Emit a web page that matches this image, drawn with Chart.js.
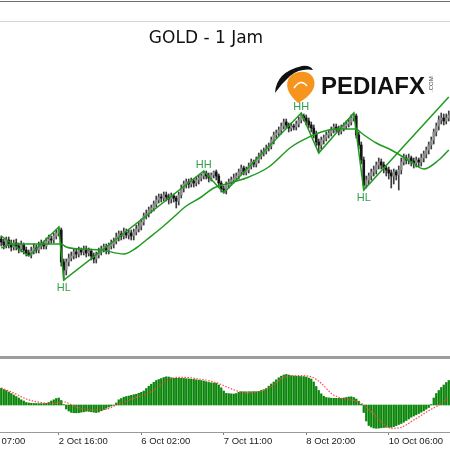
<!DOCTYPE html>
<html>
<head>
<meta charset="utf-8">
<script src="https://cdn.jsdelivr.net/npm/chart.js@4.4.0/dist/chart.umd.min.js"></script>
<style>
  html, body { margin: 0; padding: 0; background: #fff; }
  #wrap { position: relative; width: 450px; height: 450px; overflow: hidden; background: #fff; }
  .rule { position: absolute; left: 0; width: 450px; }
  #priceBox { position: absolute; left: 0; top: 22px; width: 450px; height: 334px; }
  #oscBox { position: absolute; left: 0; top: 359px; width: 450px; height: 91px; }
</style>
</head>
<body>
<div id="wrap">
  <div class="rule" style="top:1px;height:1px;background:#6c6c6c"></div>
  <div class="rule" style="top:21px;height:1px;background:#d6d6d6"></div>
  <div id="priceBox"><canvas id="priceChart" width="450" height="334"></canvas></div>
  <div class="rule" style="top:356px;height:3px;background:#9c9c9c"></div>
  <div id="oscBox"><canvas id="oscChart" width="450" height="91"></canvas></div>
</div>
<script>
// GOLD H1 candles (one per bar, left to right)
const opens = [
  1761,1758,1755,1760,1756,1753,1757,1754,1751,1755,1750,1747,
  1745,1749,1752,1750,1754,1756,1754,1759,1761,1760,1764,1767,
  1770,1738,
  1730,1738,1742,1744,1748,1746,1750,1748,1751,1747,1749,1744,
  1741,1745,1748,1751,1753,1750,1754,1756,1759,1763,1766,1764,1768,1765,1767,1764,1768,1771,
  1774,1778,1784,1786,1790,1792,1796,1800,1803,1802,1805,1803,1801,1804,1802,1799,1805,1812,1816,1818,1816,1819,1817,1820,1822,1824,
  1827,1824,1822,1825,1828,1824,1817,1811,
  1810,1815,1818,1820,1822,1824,1828,1832,1828,1830,1834,1838,1836,1840,1844,1847,1849,1852,1854,1860,1865,1867,1870,1874,1878,1875,1872,1874,1873,1876,1880,
  1884,1882,1879,1875,1872,1866,
  1858,1855,1860,1862,1865,1867,1870,1873,1871,1869,1872,1874,1876,1878,1882,
  1884,1865,1855,1840,
  1815,1820,1824,1828,1830,1835,1838,1835,1832,1830,1827,1824,1828,1825,1830,1838,1842,1840,1842,1839,1837,1840,1838,1842,1846,1850,
  1855,1860,1868,1874,1880,1882,1879,1882
];
const highs = [
  1764,1761,1763,1763,1760,1760,1761,1757,1759,1757,1753,1750,
  1753,1756,1755,1758,1760,1759,1762,1765,1764,1767,1770,1773,
  1772,1741,
  1741,1746,1748,1751,1751,1753,1752,1754,1754,1752,1751,1747,
  1748,1752,1754,1756,1756,1757,1760,1762,1767,1769,1769,1772,1771,1770,1770,1771,1775,1778,
  1781,1787,1790,1793,1795,1799,1804,1806,1806,1808,1808,1806,1807,1806,1804,1808,1815,1819,1821,1821,1822,1821,1823,1825,1826,1829,
  1829,1827,1827,1829,1830,1826,1819,1814,
  1818,1821,1823,1826,1827,1831,1835,1834,1833,1837,1841,1840,1843,1847,1850,1852,1855,1857,1863,1868,1870,1873,1877,1881,1881,1877,1877,1876,1879,1883,1887,
  1886,1885,1882,1878,1875,1869,
  1861,1863,1865,1868,1870,1873,1876,1876,1874,1875,1877,1879,1881,1885,1887,
  1886,1868,1858,1843,
  1824,1827,1831,1834,1838,1842,1841,1838,1835,1833,1830,1831,1830,1834,1842,1846,1845,1846,1844,1842,1843,1842,1846,1849,1853,1858,
  1863,1871,1877,1884,1887,1886,1886,1889
];
const lows = [
  1754,1751,1752,1752,1749,1750,1750,1747,1748,1746,1744,1744,
  1742,1746,1747,1747,1751,1751,1751,1756,1757,1757,1761,1764,
  1734,1720,
  1725,1734,1739,1741,1742,1743,1745,1745,1743,1744,1740,1737,
  1737,1742,1745,1748,1746,1746,1751,1752,1756,1759,1760,1761,1762,1761,1760,1760,1765,1768,
  1770,1775,1781,1783,1787,1789,1793,1797,1798,1799,1799,1796,1797,1798,1792,1795,1802,1808,1812,1812,1813,1813,1814,1816,1819,1821,
  1821,1818,1819,1822,1820,1813,1808,1807,
  1806,1812,1815,1817,1819,1821,1825,1825,1825,1827,1831,1833,1833,1837,1841,1844,1846,1849,1851,1856,1862,1864,1866,1871,1872,1868,1869,1870,1870,1873,1877,
  1879,1875,1872,1868,1862,1854,
  1847,1851,1856,1859,1862,1864,1867,1868,1865,1866,1869,1871,1873,1875,1879,
  1862,1851,1836,1810,
  1812,1816,1820,1824,1826,1831,1831,1827,1824,1821,1812,1816,1820,1810,1826,1835,1836,1836,1834,1832,1833,1833,1834,1838,1842,1846,
  1851,1856,1864,1870,1876,1875,1876,1879
];
const closes = [
  1758,1755,1760,1756,1753,1757,1754,1751,1755,1750,1747,1745,
  1749,1752,1750,1754,1756,1754,1759,1761,1760,1764,1767,1770,
  1738,1730,
  1738,1742,1744,1748,1746,1750,1748,1751,1747,1749,1744,1741,
  1745,1748,1751,1753,1750,1754,1756,1759,1763,1766,1764,1768,1765,1767,1764,1768,1771,1774,
  1778,1784,1786,1790,1792,1796,1800,1803,1802,1805,1803,1801,1804,1802,1799,1805,1812,1816,1818,1816,1819,1817,1820,1822,1824,1827,
  1824,1822,1825,1828,1824,1817,1811,1810,
  1815,1818,1820,1822,1824,1828,1832,1828,1830,1834,1838,1836,1840,1844,1847,1849,1852,1854,1860,1865,1867,1870,1874,1878,1875,1872,1874,1873,1876,1880,1884,
  1882,1879,1875,1872,1866,1858,
  1855,1860,1862,1865,1867,1870,1873,1871,1869,1872,1874,1876,1878,1882,1884,
  1865,1855,1840,1815,
  1820,1824,1828,1830,1835,1838,1835,1832,1830,1827,1824,1828,1825,1830,1838,1842,1840,1842,1839,1837,1840,1838,1842,1846,1850,1855,
  1860,1868,1874,1880,1882,1879,1882,1885
];

// moving average, read at a few bars
const maBars = [0, 4, 12, 24, 26, 32, 40, 49, 54, 58, 64, 69, 74, 80, 85, 90, 98, 107, 116, 124, 128, 134, 142, 144, 150, 156, 164, 169, 175, 179];
const maValues = [1752, 1756, 1756, 1756, 1753, 1751, 1750, 1746, 1752, 1760, 1772, 1783, 1794, 1803, 1812, 1816, 1822, 1833, 1853, 1864, 1868, 1871, 1871, 1867, 1857, 1850, 1838, 1831, 1840, 1850];

// zigzag swing points
const zigBars = [0, 11, 23, 25, 81, 89, 120, 127, 141, 145, 179];
const zigValues = [1764, 1744, 1773, 1720, 1829, 1807, 1887, 1847, 1887, 1810, 1903];
const zigTags = ['', '', '', 'HL', 'HH', '', 'HH', '', '', 'HL', ''];

// oscillator histogram (one per bar)
const histValues = [
  1.68,1.55,1.45,1.3,1.15,1.0,0.85,0.7,0.52,0.4,
  0.25,0.2,0.17,0.15,0.15,0.14,0.14,0.15,0.16,0.25,
  0.4,0.52,0.65,0.7,0.45,0.05,-0.4,-0.6,-0.74,-0.78,
  -0.78,-0.77,-0.72,-0.68,-0.62,-0.64,-0.68,-0.72,-0.75,-0.7,
  -0.58,-0.46,-0.33,-0.2,-0.1,-0.03,0.2,0.52,0.65,0.78,
  0.85,0.9,0.97,1.03,1.08,1.17,1.27,1.4,1.65,1.88,
  2.08,2.27,2.45,2.55,2.65,2.75,2.82,2.8,2.72,2.67,
  2.67,2.68,2.67,2.66,2.63,2.61,2.58,2.56,2.52,2.49,
  2.45,2.4,2.33,2.26,2.22,2.2,2.18,2.0,1.72,1.4,
  1.16,1.14,1.12,1.1,1.15,1.27,1.33,1.33,1.32,1.33,
  1.33,1.34,1.33,1.36,1.46,1.53,1.65,1.88,2.1,2.3,
  2.52,2.72,2.88,3.0,3.05,3.0,2.93,2.9,2.88,2.87,
  2.85,2.84,2.8,2.7,2.6,2.3,1.85,1.45,1.12,0.88,
  0.75,0.71,0.68,0.67,0.67,0.66,0.67,0.7,0.75,0.8,
  0.82,0.75,0.6,0.38,0.08,-0.75,-1.6,-2.05,-2.2,-2.3,
  -2.33,-2.31,-2.28,-2.25,-2.23,-2.23,-2.23,-2.16,-2.06,-1.95,
  -1.85,-1.72,-1.55,-1.4,-1.22,-1.1,-0.98,-0.85,-0.72,-0.58,
  -0.42,-0.25,0.05,0.7,1.15,1.45,1.75,2.0,2.25,2.45
];
// signal line, read at a few bars
const sigBars = [0, 5, 10, 16, 20, 25, 30, 37, 42, 46, 53, 60, 67, 72, 80, 86, 90, 94, 98, 103, 108, 113, 120, 124, 128, 132, 136, 140, 144, 148, 152, 156, 160, 165, 171, 175, 179];
const sigValues = [1.7, 1.2, 0.6, 0.25, 0.15, 0.3, -0.2, -0.5, -0.43, 0.0, 0.67, 1.33, 2.57, 2.77, 2.57, 2.23, 1.83, 1.43, 1.23, 1.33, 1.83, 2.77, 2.93, 2.83, 2.17, 1.17, 0.67, 0.5, 0.17, -0.67, -1.67, -2.33, -2.23, -1.5, -0.57, 0.0, 0.67];

// time axis
const tickBars = [-10, 23, 56, 89, 122, 155];
const tickLabels = ['1 Oct 07:00', '2 Oct 16:00', '6 Oct 02:00', '7 Oct 11:00', '8 Oct 20:00', '10 Oct 06:00'];

const chartTitle = 'GOLD - 1 Jam';

(function () {
  const n = closes.length;
  const green = '#1f9a1f';

  const overlay = {
    id: 'overlay',
    afterDraw(chart) {
      const ctx = chart.ctx;
      const x = chart.scales.x;
      const y = chart.scales.y;
      ctx.save();

      // HH / HL tags at the swing points
      ctx.font = '11px "Liberation Sans", Arial, sans-serif';
      ctx.fillStyle = '#2f9f4a';
      ctx.textAlign = 'center';
      ctx.textBaseline = 'alphabetic';
      zigTags.forEach(function (tag, k) {
        if (!tag) return;
        const px = x.getPixelForValue(zigBars[k]);
        const py = y.getPixelForValue(zigValues[k]);
        if (tag === 'HH') ctx.fillText(tag, px, py - 3);
        else ctx.fillText(tag, px, py + 11);
      });

      // page coords from here
      ctx.translate(0, -22);
      ctx.fillStyle = '#111';
      ctx.font = '17px "Comic Sans MS", "DejaVu Sans", sans-serif';
      ctx.fillText(chartTitle, 206, 43);

      // watermark logo
      ctx.fillStyle = '#f7941d';
      ctx.beginPath();
      ctx.moveTo(298, 103);
      ctx.bezierCurveTo(290, 96, 285, 88, 288, 80);
      ctx.bezierCurveTo(291, 72, 305, 69, 311, 75);
      ctx.bezierCurveTo(318, 82, 315, 94, 298, 103);
      ctx.fill();
      ctx.strokeStyle = '#fff';
      ctx.lineWidth = 1.5;
      ctx.beginPath();
      ctx.moveTo(294, 88);
      ctx.quadraticCurveTo(301, 78, 307, 86);
      ctx.stroke();
      ctx.fillStyle = '#111';
      ctx.beginPath();
      ctx.moveTo(275, 93);
      ctx.quadraticCurveTo(276, 72, 302, 66);
      ctx.quadraticCurveTo(310, 65, 313, 70);
      ctx.quadraticCurveTo(300, 68, 290, 76);
      ctx.quadraticCurveTo(282, 83, 275, 93);
      ctx.fill();

      ctx.textAlign = 'left';
      ctx.font = 'bold 24px "Liberation Sans", Arial, sans-serif';
      ctx.fillText('PEDIAFX', 321, 94);
      ctx.font = '6px "Liberation Sans", Arial, sans-serif';
      ctx.fillStyle = '#444';
      ctx.translate(433, 92);
      ctx.rotate(-Math.PI / 2);
      ctx.fillText('.COM', 0, 0);
      ctx.restore();
    }
  };

  const bars = closes.map(function (_, i) { return i; });

  new Chart(document.getElementById('priceChart'), {
    type: 'bar',
    data: {
      datasets: [
        {
          type: 'line',
          data: zigBars.map(function (b, k) { return { x: b, y: zigValues[k] }; }),
          borderColor: green, borderWidth: 1.5, pointRadius: 0, tension: 0, order: 1
        },
        {
          type: 'line',
          data: maBars.map(function (b, k) { return { x: b, y: maValues[k] }; }),
          borderColor: green, borderWidth: 1.5, pointRadius: 0,
          cubicInterpolationMode: 'monotone', order: 1
        },
        {
          data: bars.map(function (i) { return { x: i, y: [opens[i], closes[i]] }; }),
          backgroundColor: bars.map(function (i) { return closes[i] >= opens[i] ? '#8e8e8e' : '#141414'; }),
          barThickness: 2, grouped: false, order: 2
        },
        {
          data: bars.map(function (i) { return { x: i, y: [lows[i], highs[i]] }; }),
          backgroundColor: '#3c3c3c',
          barThickness: 1, grouped: false, order: 3
        }
      ]
    },
    options: {
      animation: false,
      responsive: false,
      events: [],
      layout: { padding: 0 },
      plugins: { legend: { display: false }, tooltip: { enabled: false } },
      scales: {
        x: { type: 'linear', min: -0.5, max: n - 0.5, offset: false, display: false, grid: { offset: false } },
        y: { min: 1644, max: 1978, display: false }
      }
    },
    plugins: [overlay]
  });

  new Chart(document.getElementById('oscChart'), {
    type: 'bar',
    data: {
      datasets: [
        {
          type: 'line',
          data: sigBars.map(function (b, k) { return { x: b, y: sigValues[k] }; }),
          borderColor: '#ff4646', borderWidth: 1.2, borderDash: [1.5, 1.5], pointRadius: 0,
          cubicInterpolationMode: 'monotone', order: 1
        },
        {
          data: histValues.map(function (v, i) { return { x: i, y: v }; }),
          backgroundColor: '#098609',
          barThickness: 1.6, grouped: false, order: 2
        }
      ]
    },
    options: {
      animation: false,
      responsive: false,
      events: [],
      layout: { padding: 0 },
      plugins: { legend: { display: false }, tooltip: { enabled: false } },
      scales: {
        x: {
          type: 'linear', min: -0.5, max: n - 0.5, offset: false,
          afterBuildTicks: function (s) { s.ticks = tickBars.map(function (v) { return { value: v }; }); },
          afterFit: function (s) { s.height = 18; s.paddingLeft = 0; s.paddingRight = 0; },
          border: { display: true, color: '#9a9a9a', width: 1 },
          grid: { drawOnChartArea: false, drawTicks: true, tickLength: 3, tickColor: '#808080', offset: false },
          ticks: {
            autoSkip: false, maxRotation: 0, minRotation: 0, align: 'start', padding: 1,
            color: '#1a1a1a', font: { family: 'Liberation Sans', size: 9.5 },
            callback: function (v) { return tickLabels[tickBars.indexOf(v)]; }
          }
        },
        y: { display: false, min: -2.7, max: 4.6 }
      }
    }
  });
})();
</script>
</body>
</html>
